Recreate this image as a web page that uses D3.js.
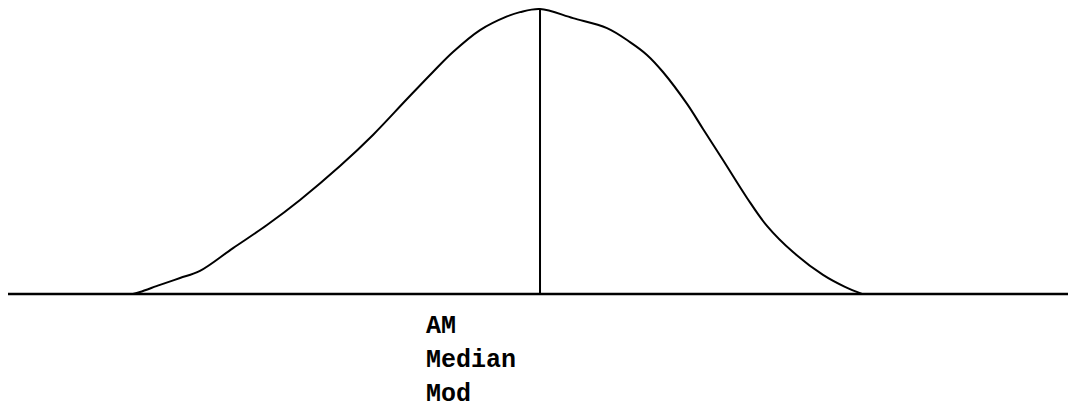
<!DOCTYPE html>
<html>
<head>
<meta charset="utf-8">
<script src="https://cdn.jsdelivr.net/npm/d3@7"></script>
<style>
  html, body { margin: 0; padding: 0; background: #fff; }
  svg { display: block; }
</style>
</head>
<body>
<svg id="chart" width="1073" height="409"></svg>
<script>
// Frequency curve: score (x) vs relative frequency in % of the peak (y)
const scores = [11.79, 12.45, 14.34, 16.23, 18.11, 21.23, 24.43, 27.55, 31.32, 34.43, 37.64, 40.09, 41.98,
                44.53, 47.08, 48.30, 50.19, 53.30, 56.51, 58.68, 60.28, 61.79, 64.06, 65.57, 67.45, 69.72,
                71.60, 74.06, 76.89, 78.96, 80.57];
const freqs  = [0, 0.7, 3.2, 5.6, 8.1, 16.1, 24.2, 33.0, 44.9, 55.8, 68.4, 77.9, 84.9,
                92.6, 97.4, 98.9, 100, 96.8, 93.3, 88.4, 83.9, 77.9, 66.7, 57.9, 47.0, 33.7,
                23.9, 14.7, 6.7, 2.5, 0];
// Mean, median and mode coincide at the peak
const centre = 50.19;
const centreLabels = ["AM", "Median", "Mod"];

const svg = d3.select("#chart");
const x = d3.scaleLinear().domain([0, 100]).range([8, 1068]);
const y = d3.scaleLinear().domain([0, 100]).range([294, 9]);

const points = scores.map((s, i) => [s, freqs[i]]);

// baseline (x axis without ticks)
svg.append("line")
  .attr("x1", x(0)).attr("x2", x(100))
  .attr("y1", y(0)).attr("y2", y(0))
  .attr("stroke", "#000").attr("stroke-width", 2.6);

// frequency curve
svg.append("path")
  .datum(points)
  .attr("fill", "none")
  .attr("stroke", "#000")
  .attr("stroke-width", 2)
  .attr("stroke-linejoin", "round")
  .attr("d", d3.line()
    .x(d => x(d[0]))
    .y(d => y(d[1]))
    .curve(d3.curveCatmullRom.alpha(0.5)));

// vertical line at the common centre
svg.append("line")
  .attr("x1", x(centre)).attr("x2", x(centre))
  .attr("y1", y(0)).attr("y2", y(d3.max(freqs)))
  .attr("stroke", "#000").attr("stroke-width", 2);

// stacked labels under the baseline
svg.append("g")
  .selectAll("text")
  .data(centreLabels)
  .join("text")
  .attr("x", x(centre) - 114)
  .attr("y", (d, i) => 333 + i * 34)
  .attr("font-family", "'Liberation Mono', 'DejaVu Sans Mono', monospace")
  .attr("font-weight", "bold")
  .attr("font-size", 25)
  .attr("fill", "#000")
  .text(d => d);
</script>
</body>
</html>
